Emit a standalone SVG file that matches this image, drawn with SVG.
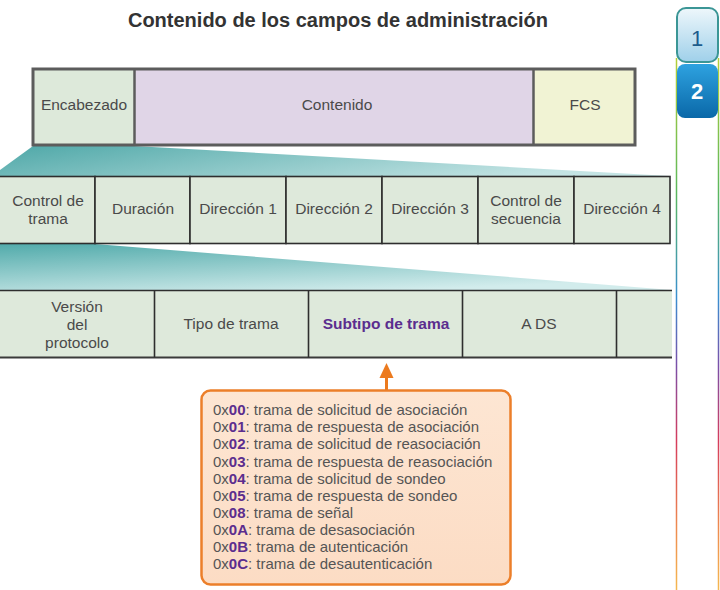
<svg xmlns="http://www.w3.org/2000/svg" width="720" height="590" viewBox="0 0 720 590">
<defs>
<style>
.t{font-family:"Liberation Sans",Arial,sans-serif;font-size:15.5px;fill:#4a4a4a;text-anchor:middle}
.c{fill:#dee9db;stroke:#2e2e2e;stroke-width:1.6}
.l{font-family:"Liberation Sans",Arial,sans-serif;font-size:15px;fill:#555}
.b{font-weight:bold;fill:#5b2d8e}
</style>
<linearGradient id="tz1" x1="0" y1="0" x2="1" y2="0.3">
<stop offset="0" stop-color="#4fa8a8"/><stop offset="1" stop-color="#c4e4e4"/>
</linearGradient>
<linearGradient id="tz2" x1="0" y1="0" x2="0.6" y2="1">
<stop offset="0" stop-color="#52abab"/><stop offset="1" stop-color="#d2ecec"/>
</linearGradient>
<linearGradient id="box" x1="0" y1="0" x2="0" y2="1">
<stop offset="0" stop-color="#fde6d3"/><stop offset="1" stop-color="#fcdcc4"/>
</linearGradient>
<linearGradient id="side" gradientUnits="userSpaceOnUse" x1="0" y1="58" x2="0" y2="590">
<stop offset="0" stop-color="#b5cf3a"/><stop offset="0.25" stop-color="#5cb85c"/><stop offset="0.45" stop-color="#3a8fd0"/><stop offset="0.58" stop-color="#7b4fa8"/><stop offset="0.72" stop-color="#d63c5c"/><stop offset="0.88" stop-color="#ee8a50"/><stop offset="1" stop-color="#f5b850"/>
</linearGradient>
<linearGradient id="tab1" x1="0" y1="0" x2="0" y2="1">
<stop offset="0" stop-color="#eef7fb"/><stop offset="1" stop-color="#9fd0ea"/>
</linearGradient>
<linearGradient id="tab2" x1="0" y1="0" x2="0" y2="1">
<stop offset="0" stop-color="#2ea2e0"/><stop offset="1" stop-color="#0a68a8"/>
</linearGradient>
</defs>
<rect width="720" height="590" fill="#fff"/>
<text x="338" y="27" font-family="'Liberation Sans',Arial,sans-serif" font-size="20" font-weight="bold" fill="#333" text-anchor="middle">Contenido de los campos de administración</text>

<g id="sidebar">
<line x1="676.5" y1="58" x2="676.5" y2="590" stroke="url(#side)" stroke-width="1.5"/>
<line x1="718.5" y1="58" x2="718.5" y2="590" stroke="url(#side)" stroke-width="1.5"/>
<rect x="677" y="8" width="41" height="54" rx="9" fill="url(#tab1)" stroke="#3b9696" stroke-width="2"/>
<text x="697" y="46" font-family="'Liberation Sans',Arial,sans-serif" font-size="22" fill="#1d5c8c" text-anchor="middle">1</text>
<rect x="677" y="64" width="41" height="54" rx="8" fill="url(#tab2)"/>
<text x="697" y="99" font-family="'Liberation Sans',Arial,sans-serif" font-size="22" font-weight="bold" fill="#fff" text-anchor="middle">2</text>
</g>

<g id="zoom-bands">
<polygon points="33,146 134,146 670,176 0,176 0,170" fill="url(#tz1)"/>
<polygon points="0,244 95,244 672,290 0,290" fill="url(#tz2)"/>
</g>

<g id="frame">
<rect x="33" y="69" width="101" height="76" fill="#dde9da"/>
<rect x="134" y="69" width="399" height="76" fill="#e0d5e7"/>
<rect x="533" y="69" width="102" height="76" fill="#f1f3d4"/>
<rect x="33" y="69" width="602" height="76" fill="none" stroke="#5c5c5c" stroke-width="3"/>
<line x1="134.5" y1="69" x2="134.5" y2="145" stroke="#5c5c5c" stroke-width="2.5"/>
<line x1="533.5" y1="69" x2="533.5" y2="145" stroke="#5c5c5c" stroke-width="2.5"/>
<text class="t" x="84" y="110">Encabezado</text>
<text class="t" x="337" y="110">Contenido</text>
<text class="t" x="585" y="110">FCS</text>
</g>

<g id="header-fields">
<rect class="c" x="-2" y="176.5" width="97" height="67"/>
<rect class="c" x="95" y="176.5" width="95" height="67"/>
<rect class="c" x="190" y="176.5" width="96" height="67"/>
<rect class="c" x="286" y="176.5" width="96" height="67"/>
<rect class="c" x="382" y="176.5" width="96" height="67"/>
<rect class="c" x="478" y="176.5" width="96" height="67"/>
<rect class="c" x="574" y="176.5" width="96" height="67"/>
<text class="t" x="48" y="206">Control de</text>
<text class="t" x="48" y="224">trama</text>
<text class="t" x="143" y="214">Duración</text>
<text class="t" x="238" y="214">Dirección 1</text>
<text class="t" x="334" y="214">Dirección 2</text>
<text class="t" x="430" y="214">Dirección 3</text>
<text class="t" x="526" y="206">Control de</text>
<text class="t" x="526" y="224">secuencia</text>
<text class="t" x="622" y="214">Dirección 4</text>
</g>

<g id="control-fields">
<rect x="0" y="290.5" width="672" height="67" fill="#dee9db"/>
<line x1="0" y1="290.5" x2="672" y2="290.5" stroke="#2e2e2e" stroke-width="1.6"/>
<line x1="0" y1="357.5" x2="672" y2="357.5" stroke="#3a3a3a" stroke-width="2.2"/>
<line x1="154.5" y1="290.5" x2="154.5" y2="357.5" stroke="#2e2e2e" stroke-width="1.6"/>
<line x1="308.5" y1="290.5" x2="308.5" y2="357.5" stroke="#2e2e2e" stroke-width="1.6"/>
<line x1="462.5" y1="290.5" x2="462.5" y2="357.5" stroke="#2e2e2e" stroke-width="1.6"/>
<line x1="616.5" y1="290.5" x2="616.5" y2="357.5" stroke="#2e2e2e" stroke-width="1.6"/>
<text class="t" x="77" y="312">Versión</text>
<text class="t" x="77" y="330">del</text>
<text class="t" x="77" y="348">protocolo</text>
<text class="t" x="231" y="329">Tipo de trama</text>
<text class="t" x="386" y="329" font-weight="bold" style="fill:#5b2d8e">Subtipo de trama</text>
<text class="t" x="539" y="329">A DS</text>
</g>

<g id="connectors">
<line x1="386.5" y1="391" x2="386.5" y2="374" stroke="#ec7a1e" stroke-width="3"/>
<polygon points="386.5,363 393.5,378 379.5,378" fill="#ec7a1e"/>
</g>

<g id="subtypes">
<rect x="201.5" y="390.5" width="309" height="194" rx="9" fill="url(#box)" stroke="#ec7f2a" stroke-width="2.5"/>
<text class="l" x="213" y="415">0x<tspan class="b">00</tspan>: trama de solicitud de asociación</text>
<text class="l" x="213" y="432">0x<tspan class="b">01</tspan>: trama de respuesta de asociación</text>
<text class="l" x="213" y="449">0x<tspan class="b">02</tspan>: trama de solicitud de reasociación</text>
<text class="l" x="213" y="466.5">0x<tspan class="b">03</tspan>: trama de respuesta de reasociación</text>
<text class="l" x="213" y="483.5">0x<tspan class="b">04</tspan>: trama de solicitud de sondeo</text>
<text class="l" x="213" y="500.5">0x<tspan class="b">05</tspan>: trama de respuesta de sondeo</text>
<text class="l" x="213" y="518">0x<tspan class="b">08</tspan>: trama de señal</text>
<text class="l" x="213" y="535">0x<tspan class="b">0A</tspan>: trama de desasociación</text>
<text class="l" x="213" y="552">0x<tspan class="b">0B</tspan>: trama de autenticación</text>
<text class="l" x="213" y="569">0x<tspan class="b">0C</tspan>: trama de desautenticación</text>
</g>
</svg>
